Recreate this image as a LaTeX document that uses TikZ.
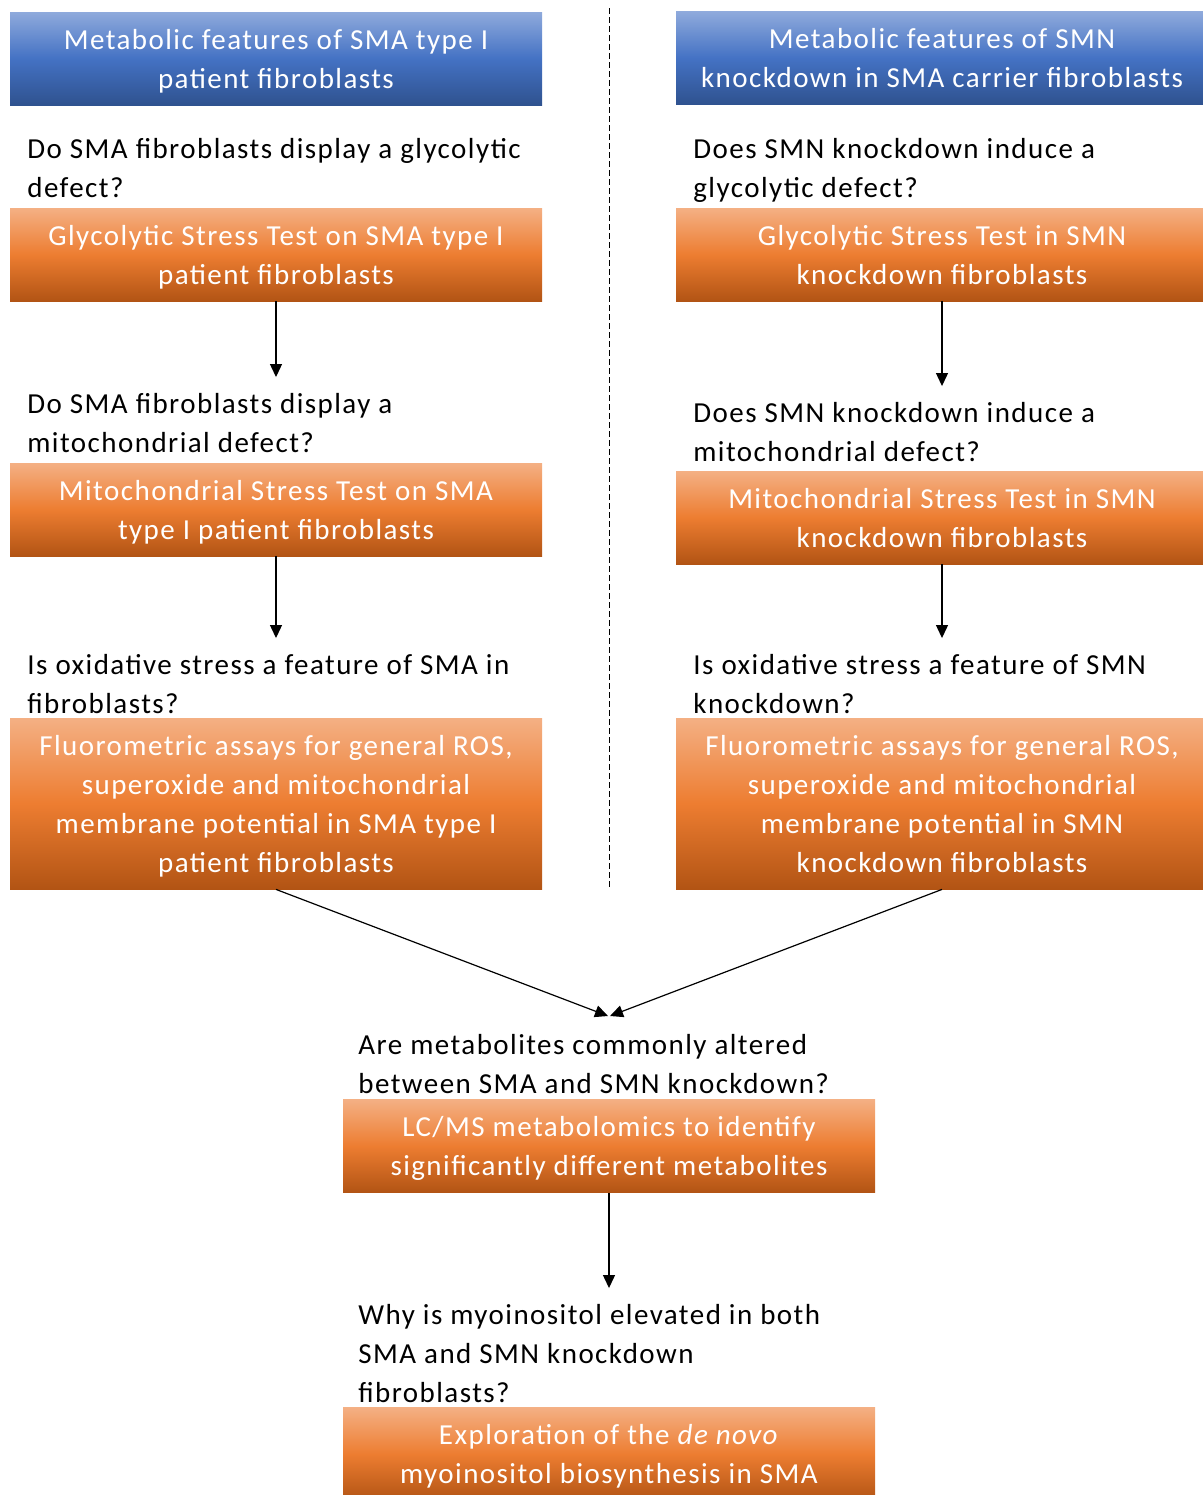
\documentclass[tikz,border=0pt]{standalone}
\usepackage{fontspec}
\setmainfont{Carlito}[LetterSpace=5]
\usetikzlibrary{arrows.meta,positioning}

\definecolor{bluetop}{RGB}{143,170,220}
\definecolor{bluemid}{RGB}{68,114,196}
\definecolor{bluebot}{RGB}{47,82,143}
\definecolor{orangetop}{RGB}{244,176,132}
\definecolor{orangemid}{RGB}{237,125,49}
\definecolor{orangebot}{RGB}{178,84,20}

\newcommand{\diagfont}{\fontsize{14.5pt}{19.5pt}\selectfont}

\tikzset{
  headbox/.style={minimum width=266pt, minimum height=46.5pt, inner sep=0pt,
    align=center, text=white, font=\diagfont, text depth=0pt,
    top color=bluetop, bottom color=bluebot, middle color=bluemid},
  testbox/.style={minimum width=266pt, minimum height=46.5pt, inner sep=0pt,
    align=center, text=white, font=\diagfont, text depth=0pt,
    top color=orangetop, bottom color=orangebot, middle color=orangemid},
  question/.style={anchor=west, align=left, inner xsep=0pt, inner ysep=8pt,
    font=\diagfont, text depth=0pt},
  flow/.style={-{Triangle[length=6.5pt,width=6pt]}, line width=0.6pt}
}

\begin{document}
\begin{tikzpicture}[x=0.5pt, y=-0.5pt, line join=round]
\useasboundingbox (0,0) rectangle (1203,1495);
% divider
\draw[dash pattern=on 3pt off 1.5pt, line width=0.5pt] (609,8) -- (609,888);
% left column
\node[headbox] (hl) at (276,58.5) {Metabolic features of SMA type I\\patient fibroblasts};
\node[question] (ql1) at (27,168) {Do SMA fibroblasts display a glycolytic\\defect?};
\node[testbox] (gl1) at (276,254.5) {Glycolytic Stress Test on SMA type I\\patient fibroblasts};
\node[question] (ql2) at (27,423) {Do SMA fibroblasts display a\\mitochondrial defect?};
\node[testbox] (gl2) at (276,509.5) {Mitochondrial Stress Test on SMA\\type I patient fibroblasts};
\node[question] (ql3) at (27,684) {Is oxidative stress a feature of SMA in\\fibroblasts?};
\node[testbox, minimum height=85.5pt] (gl3) at (276,803.5) {Fluorometric assays for general ROS,\\superoxide and mitochondrial\\membrane potential in SMA type I\\patient fibroblasts};
% right column
\node[headbox] (hr) at (942,58) {Metabolic features of SMN\\knockdown in SMA carrier fibroblasts};
\node[question] (qr1) at (693,168) {Does SMN knockdown induce a\\glycolytic defect?};
\node[testbox] (gr1) at (942,254.5) {Glycolytic Stress Test in SMN\\knockdown fibroblasts};
\node[question] (qr2) at (693,432) {Does SMN knockdown induce a\\mitochondrial defect?};
\node[testbox] (gr2) at (942,517.5) {Mitochondrial Stress Test in SMN\\knockdown fibroblasts};
\node[question] (qr3) at (693,684) {Is oxidative stress a feature of SMN\\knockdown?};
\node[testbox, minimum height=85.5pt] (gr3) at (942,803.5) {Fluorometric assays for general ROS,\\superoxide and mitochondrial\\membrane potential in SMN\\knockdown fibroblasts};
% bottom
\coordinate (meet) at (609,1016);
\node[question] (qm) at (358,1063.5) {Are metabolites commonly altered\\between SMA and SMN knockdown?};
\node[testbox] (gm) at (609,1146) {LC/MS metabolomics to identify\\significantly different metabolites};
\node[question] (qb) at (358,1353.5) {Why is myoinositol elevated in both\\SMA and SMN knockdown\\fibroblasts?};
\node[testbox] (gb) at (609,1454) {Exploration of the \emph{de novo}\\myoinositol biosynthesis in SMA};
% arrows
\draw[flow] (gl1.south) -- (gl1.south |- ql2.north);
\draw[flow] (gl2.south) -- (gl2.south |- ql3.north);
\draw[flow] (gr1.south) -- (gr1.south |- qr2.north);
\draw[flow] (gr2.south) -- (gr2.south |- qr3.north);
\draw[flow] (gl3.south) -- ([xshift=-0.5pt]meet);
\draw[flow] (gr3.south) -- ([xshift=0.5pt]meet);
\draw[flow] (gm.south) -- (gm.south |- qb.north);
\end{tikzpicture}
\end{document}
